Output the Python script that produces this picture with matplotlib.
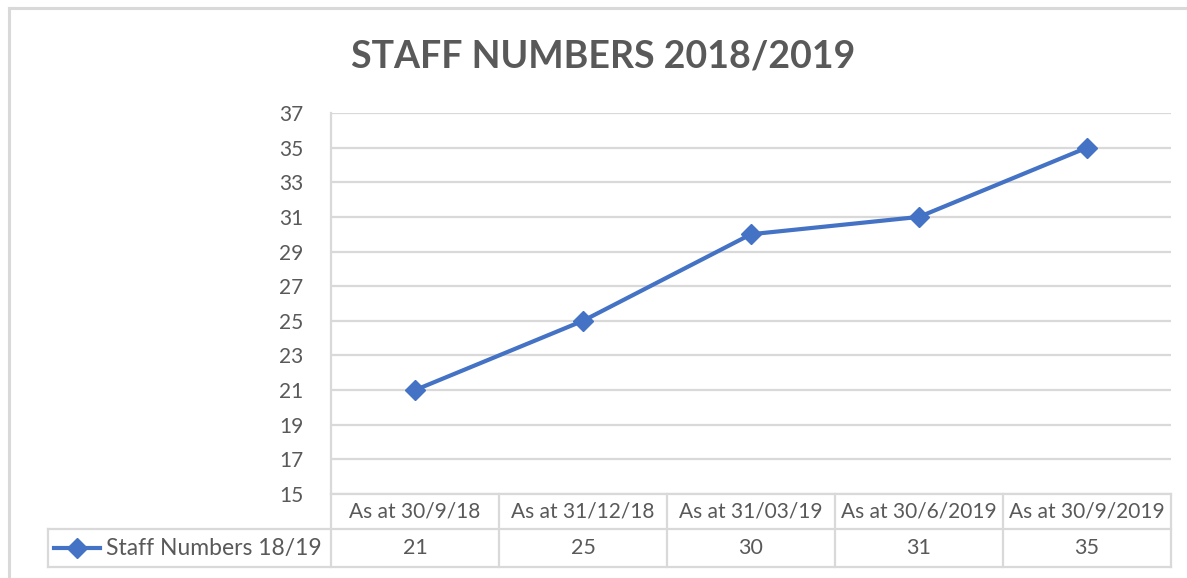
import matplotlib.pyplot as plt
from matplotlib.lines import Line2D
import matplotlib.transforms as mtransforms

categories = ["As at 30/9/18", "As at 31/12/18", "As at 31/03/19", "As at 30/6/2019", "As at 30/9/2019"]
staff_numbers = [21, 25, 30, 31, 35]
series_name = "Staff Numbers 18/19"
title = "STAFF NUMBERS 2018/2019"
y_ticks = list(range(15, 38, 2))

BLUE = "#4472C4"
GRID = "#D9D9D9"
TEXT = "#595959"
W, H = 1187, 578

plt.rcParams["font.family"] = ["Lato", "DejaVu Sans"]


def fx(px):
    return px / W


def fy(py):
    return 1 - py / H


fig = plt.figure(figsize=(W / 100, H / 100), dpi=100)

# plot area
left, right, top, bottom = 331, 1171, 113, 494
ax = fig.add_axes([fx(left), fy(bottom), fx(right) - fx(left), fy(top) - fy(bottom)])
xs = list(range(len(categories)))
ax.plot(xs, staff_numbers, color=BLUE, lw=3, marker="D", ms=10, zorder=3)
ax.set_xlim(-0.5, len(categories) - 0.5)
ax.set_ylim(y_ticks[0], y_ticks[-1])
ax.set_yticks(y_ticks)
ax.set_xticks([])
ax.yaxis.grid(True, color=GRID, lw=1.6)
ax.set_axisbelow(True)
for s in ["top", "right", "bottom"]:
    ax.spines[s].set_visible(False)
ax.spines["left"].set_color(GRID)
ax.spines["left"].set_linewidth(1.6)
ax.tick_params(axis="y", length=0, pad=20, labelsize=15, labelcolor=TEXT)

# outer chart border (cropped on right/bottom)
fig.add_artist(Line2D([fx(9), fx(9)], [fy(8), 0], transform=fig.transFigure, color=GRID, lw=2.2))
fig.add_artist(Line2D([fx(9), 1], [fy(8), fy(8)], transform=fig.transFigure, color=GRID, lw=2.2))

# title
fig.text(fx(603), fy(57), title, ha="center", va="center", fontsize=27,
         fontweight="bold", color=TEXT)

# data table under the axis
row_mid, row_bot = 529, 567
blend = mtransforms.blended_transform_factory(ax.transData, fig.transFigure)


def hline(x0, x1, y):
    fig.add_artist(Line2D([fx(x0), fx(x1)], [fy(y), fy(y)], transform=fig.transFigure, color=GRID, lw=1.6))


def vline(x, y0, y1):
    fig.add_artist(Line2D([fx(x), fx(x)], [fy(y0), fy(y1)], transform=fig.transFigure, color=GRID, lw=1.6))


hline(left, right, bottom)
hline(48, right, row_mid)
hline(48, right, row_bot)
vline(48, row_mid, row_bot)
vline(left, bottom, row_bot)
for i in range(len(categories)):
    edge = i + 0.5
    xpix = ax.transData.transform((edge, 0))[0]
    vline(xpix, bottom, row_bot)

for i, (cat, val) in enumerate(zip(categories, staff_numbers)):
    ax.text(i, fy((bottom + row_mid) / 2), cat, transform=blend, ha="center", va="center",
            fontsize=15, color=TEXT)
    ax.text(i, fy((row_mid + row_bot) / 2), str(val), transform=blend, ha="center", va="center",
            fontsize=15.5, color=TEXT)

# legend key in the table
ly = fy((row_mid + row_bot) / 2)
fig.add_artist(Line2D([fx(54), fx(100)], [ly, ly], transform=fig.transFigure, color=BLUE, lw=3))
fig.add_artist(Line2D([fx(77)], [ly], transform=fig.transFigure, color=BLUE, marker="D", ms=10))
fig.text(fx(106), ly, series_name, ha="left", va="center", fontsize=16.5, color=TEXT)

fig.savefig("out.png", dpi=100)
